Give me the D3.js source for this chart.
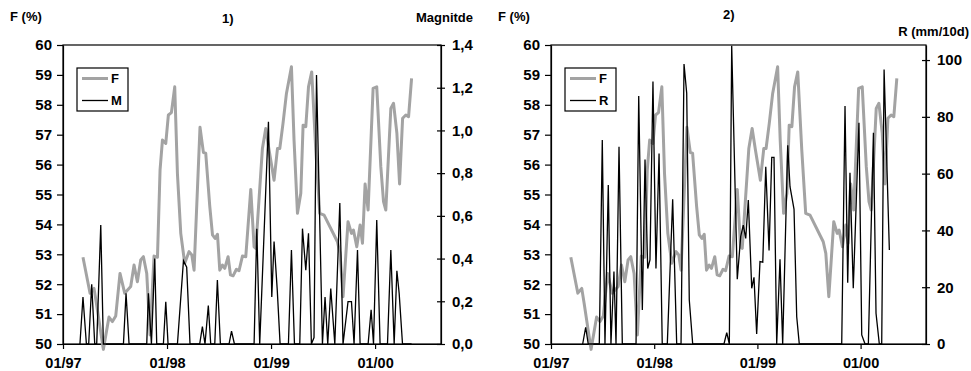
<!DOCTYPE html>
<html>
<head>
<meta charset="utf-8">
<script src="https://cdn.jsdelivr.net/npm/d3@7"></script>
<style>
  body { margin: 0; background: #fff; }
  text { font-family: "Liberation Sans", Arial, sans-serif; font-weight: bold; }
</style>
</head>
<body>
<div id="chart"></div>
<script>
// time values are decimal years
const fTime = [1997.192,1997.260,1997.298,1997.321,1997.388,1997.442,1997.475,1997.507,1997.548,1997.593,1997.651,1997.683,1997.715,1997.747,1997.773,1997.805,1997.837,1997.875,1997.908,1997.933,1997.956,1997.988,
  1998.013,1998.042,1998.074,1998.100,1998.132,1998.170,1998.212,1998.238,1998.260,1998.317,1998.350,1998.372,1998.411,1998.437,1998.462,1998.485,1998.507,1998.533,1998.555,1998.587,1998.610,1998.635,1998.667,1998.692,1998.725,1998.757,1998.805,1998.837,1998.853,1998.917,1998.949,1998.981,
  1999.029,1999.062,1999.084,1999.115,1999.148,1999.196,1999.221,1999.254,1999.286,1999.308,1999.334,1999.360,1999.391,1999.430,1999.468,1999.510,1999.638,1999.663,1999.692,1999.740,1999.773,1999.792,1999.824,1999.856,1999.879,1999.904,1999.933,1999.981,
  2000.016,2000.055,2000.081,2000.103,2000.151,2000.177,2000.209,2000.235,2000.264,2000.295,2000.321,2000.350];
const fValue = [52.9,51.7,51.86,51.36,49.82,50.9,50.75,50.94,52.36,51.7,51.92,52.64,52.08,52.81,52.92,52.36,50.3,52.94,52.9,55.82,56.82,56.71,
  57.66,57.74,58.6,55.7,53.7,52.7,53.09,52.98,52.47,57.25,56.4,56.38,54.6,53.65,53.53,53.67,52.47,52.64,52.53,52.92,52.31,52.28,52.5,52.45,52.94,52.92,55.17,53.25,53.2,56.54,57.21,56.49,
  55.48,56.54,56.54,57.38,58.38,59.27,56.82,54.37,55.04,57.32,57.27,58.6,59.1,56.49,54.37,54.31,53.42,53.03,51.58,54.09,53.7,53.81,53.25,53.98,53.37,55.35,54.48,58.55,
  58.6,55.93,54.76,54.48,57.88,58.05,57.05,55.35,57.55,57.66,57.6,58.88];

const mTime = [1997.163,1997.192,1997.225,1997.247,1997.276,1997.305,1997.324,1997.363,1997.388,1997.581,1997.606,1997.635,1997.805,1997.821,1997.850,1997.882,1997.901,1997.965,1997.988,
  1998.010,1998.100,1998.158,1998.189,1998.221,1998.314,1998.340,1998.365,1998.397,1998.420,1998.459,1998.484,1998.513,1998.596,1998.620,1998.648,1998.837,1998.863,1998.891,1998.975,
  1999.007,1999.029,1999.060,1999.087,1999.167,1999.196,1999.225,1999.276,1999.302,1999.334,1999.360,1999.388,1999.413,1999.437,1999.494,1999.519,1999.545,1999.574,1999.613,1999.661,1999.692,1999.740,1999.773,1999.798,1999.831,1999.856,1999.933,1999.962,1999.985,
  2000.016,2000.048,2000.119,2000.151,2000.183,2000.209,2000.231,2000.263,2000.350];
const mValue = [0,0.22,0,0,0.28,0,0,0.557,0,0,0.237,0,0,0.237,0,0.40,0,0,0.198,
  0,0,0.39,0.36,0,0,0.081,0,0.18,0,0,0.30,0,0,0.06,0,0,0.54,0,1.04,
  0.22,0.48,0.25,0,0,0.44,0,0,0.54,0.346,0.518,0,0.03,1.26,0,0.22,0,0.26,0,0.66,0,0.198,0.198,0,0.44,0,0,0.16,0,
  0.58,0,0,0.44,0,0.343,0.237,0,0];

const rTime = [1997.307,1997.336,1997.361,1997.468,1997.497,1997.523,1997.555,1997.581,1997.610,1997.630,1997.659,1997.691,1997.824,1997.850,1997.885,1997.911,1997.937,1997.959,1997.988,
  1998.017,1998.047,1998.078,1998.127,1998.179,1998.218,1998.260,1998.289,1998.315,1998.340,1998.373,1998.676,1998.703,1998.728,1998.751,1998.805,1998.838,1998.863,1998.887,1998.912,1998.945,1998.967,1998.993,
  1999.025,1999.052,1999.081,1999.113,1999.139,1999.161,1999.187,1999.219,1999.245,1999.294,1999.316,1999.355,1999.381,1999.406,1999.817,1999.849,1999.875,1999.897,1999.929,1999.984,
  2000.011,2000.043,2000.075,2000.124,2000.149,2000.181,2000.204,2000.227,2000.278];
const rValue = [0,5.9,0,0,71.8,0,56,0,25.5,0,69.5,0,0,87.3,12,65,26.6,29.6,92.4,
  26.6,67.1,0,0,51,0,0,98.6,88.3,15.5,0,0,4,0,105,22.8,37.8,41.9,37.2,50.7,19.6,23.5,3.5,
  29,28.8,62.4,32.9,65.7,65.7,0,29.8,0,70,55.4,47.4,9.6,0,0,83.8,21.6,60.3,19.6,77.9,
  3.2,0,0,74.4,10.8,0,0,96.7,33.1];

const fTicks = [50, 51, 52, 53, 54, 55, 56, 57, 58, 59, 60];
const mTicks = [0, 0.2, 0.4, 0.6, 0.8, 1.0, 1.2, 1.4];
const rTicks = [0, 20, 40, 60, 80, 100];
const timeStart = 1997.0, timeEnd = 2000.632;

function decToDate(d) {
  const y = Math.floor(d);
  const a = new Date(y, 0, 1), b = new Date(y + 1, 0, 1);
  return new Date(+a + (d - y) * (b - a));
}

const width = 971, height = 371;
const plotTop = 45, plotBottom = 344;

const svg = d3.select('#chart').append('svg')
  .attr('width', width)
  .attr('height', height);

function buildPanel(p) {
  const x = d3.scaleTime()
    .domain([decToDate(timeStart), decToDate(timeEnd)])
    .range([p.x0, p.x1]);
  const yF = d3.scaleLinear().domain([50, 60]).range([plotBottom, plotTop]);
  const yR = d3.scaleLinear().domain(p.rDomain).range([plotBottom, plotTop]);

  svg.append('rect')
    .attr('x', p.x0).attr('y', plotTop)
    .attr('width', p.x1 - p.x0).attr('height', plotBottom - plotTop)
    .attr('fill', 'none').attr('stroke', '#000').attr('stroke-width', 1.2);

  const gl = svg.append('g')
    .attr('transform', `translate(${p.x0},0)`)
    .call(d3.axisLeft(yF).tickValues(fTicks).tickSize(6).tickSizeOuter(0).tickPadding(5).tickFormat(d3.format('d')));

  const gr = svg.append('g')
    .attr('transform', `translate(${p.x1},0)`)
    .call(d3.axisRight(yR).tickValues(p.rTicks).tickSize(4).tickSizeOuter(0).tickPadding(7).tickFormat(p.rFormat));
  gr.selectAll('.tick line').attr('x1', -4);

  const gb = svg.append('g')
    .attr('transform', `translate(0,${plotBottom})`)
    .call(d3.axisBottom(x).ticks(d3.timeYear.every(1)).tickSize(5).tickSizeOuter(0).tickPadding(9).tickFormat(d3.timeFormat('%m/%y')));

  [gl, gr, gb].forEach(g => {
    g.attr('font-size', 15).attr('font-family', '"Liberation Sans", Arial, sans-serif').attr('font-weight', 'bold');
    g.selectAll('line, path').attr('stroke', '#000').attr('stroke-width', 1.2);
    g.selectAll('text').attr('fill', '#000');
  });
  gb.attr('font-size', 14.5);

  const fData = fTime.map((t, i) => ({ t: decToDate(t), v: fValue[i] }));
  const sData = p.sTime.map((t, i) => ({ t: decToDate(t), v: p.sValue[i] }));

  svg.append('path')
    .datum(fData)
    .attr('fill', 'none')
    .attr('stroke', '#a3a3a3')
    .attr('stroke-width', 3)
    .attr('stroke-linejoin', 'round')
    .attr('d', d3.line().x(d => x(d.t)).y(d => yF(d.v)));

  svg.append('path')
    .datum(sData)
    .attr('fill', 'none')
    .attr('stroke', '#000')
    .attr('stroke-width', 1.3)
    .attr('d', d3.line().x(d => x(d.t)).y(d => yR(d.v)));

  // legend
  const lg = svg.append('g').attr('transform', `translate(${p.x0 + 14},68)`);
  lg.append('rect').attr('width', 51).attr('height', 43)
    .attr('fill', '#fff').attr('stroke', '#000').attr('stroke-width', 1.2);
  lg.append('line').attr('x1', 5).attr('x2', 31).attr('y1', 10.5).attr('y2', 10.5)
    .attr('stroke', '#a3a3a3').attr('stroke-width', 3);
  lg.append('line').attr('x1', 5).attr('x2', 31).attr('y1', 32.5).attr('y2', 32.5)
    .attr('stroke', '#000').attr('stroke-width', 1.3);
  lg.append('text').attr('x', 34).attr('y', 15).attr('font-size', 13).text('F');
  lg.append('text').attr('x', 34).attr('y', 37).attr('font-size', 13).text(p.name);

  // titles
  svg.append('text').attr('x', p.x0 - 53).attr('y', 21).attr('font-size', 13).text('F (%)');
  svg.append('text').attr('x', p.titleX).attr('y', p.titleY).attr('font-size', 13).text(p.title);
  svg.append('text').attr('x', p.labelX).attr('y', p.labelY).attr('font-size', 13)
    .attr('text-anchor', 'end').text(p.label);
}

const commaFormat = d => d3.format('.1f')(d).replace('.', ',');

buildPanel({
  x0: 63, x1: 441, sTime: mTime, sValue: mValue, name: 'M',
  rDomain: [0, 1.4], rTicks: mTicks, rFormat: commaFormat,
  title: '1)', titleX: 222, titleY: 23,
  label: 'Magnitde', labelX: 473, labelY: 22
});

buildPanel({
  x0: 551, x1: 926, sTime: rTime, sValue: rValue, name: 'R',
  rDomain: [0, 105.3], rTicks: rTicks, rFormat: d3.format('d'),
  title: '2)', titleX: 723, titleY: 19,
  label: 'R (mm/10d)', labelX: 969, labelY: 36
});
</script>
</body>
</html>
